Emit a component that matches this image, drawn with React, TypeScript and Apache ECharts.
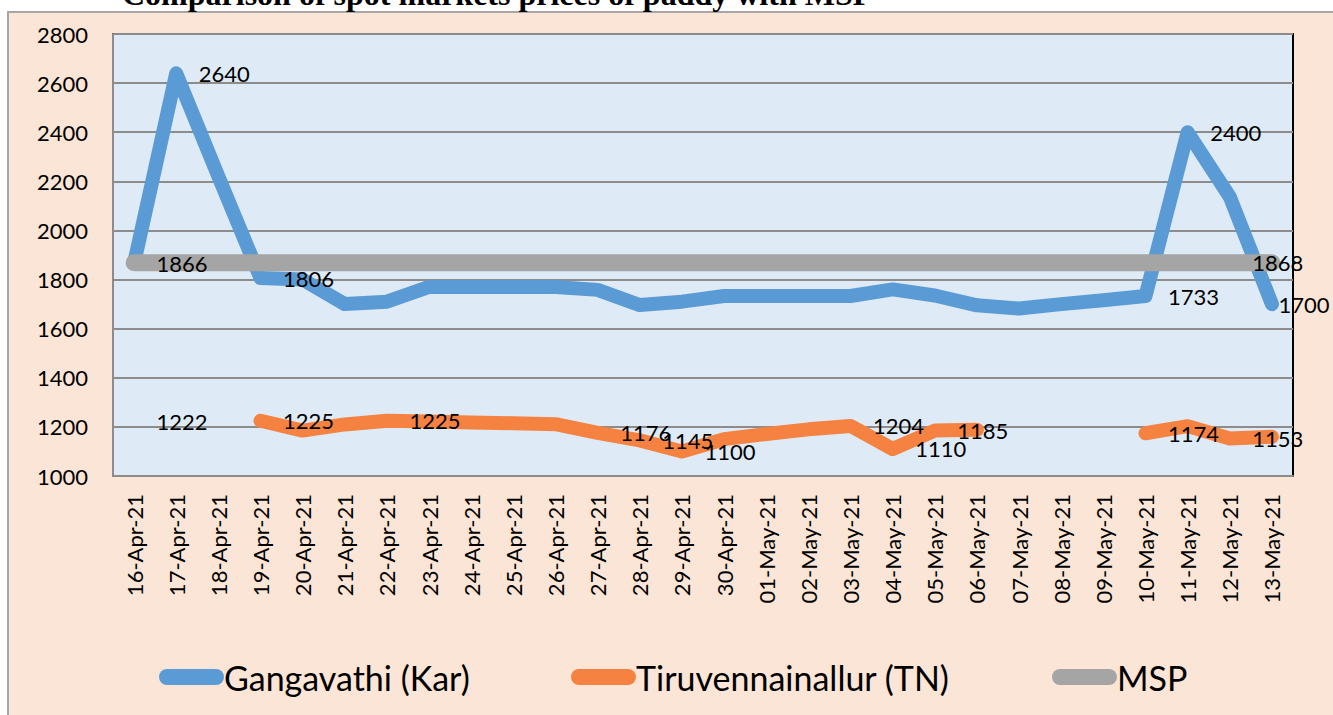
import React, { useEffect, useRef } from "react";
import * as echarts from "echarts";

const categories = [
  "16-Apr-21", "17-Apr-21", "18-Apr-21", "19-Apr-21", "20-Apr-21", "21-Apr-21", "22-Apr-21",
  "23-Apr-21", "24-Apr-21", "25-Apr-21", "26-Apr-21", "27-Apr-21", "28-Apr-21", "29-Apr-21",
  "30-Apr-21", "01-May-21", "02-May-21", "03-May-21", "04-May-21", "05-May-21", "06-May-21",
  "07-May-21", "08-May-21", "09-May-21", "10-May-21", "11-May-21", "12-May-21", "13-May-21",
];

const gangavathi = [
  1866, 2640, 2220, 1806, 1800, 1700, 1710, 1770, 1770, 1770, 1770, 1758, 1696, 1710,
  1733, 1733, 1733, 1733, 1760, 1735, 1695, 1682, 1700, 1716, 1733, 2400, 2137, 1700,
];
const gangavathiLabels = [0, 1, 3, 24, 25, 27];

const tiruvennainallur: (number | null)[] = [
  1222, null, null, 1225, 1185, 1210, 1225, 1222, 1218, 1215, 1211, 1176, 1145, 1100,
  1150, 1171, 1190, 1204, 1110, 1185, 1188, null, null, null, 1174, 1203, 1153, 1160,
];
const tiruvennainallurLabels = [0, 3, 6, 11, 12, 13, 17, 18, 19, 24, 26];

const msp = [
  1868, 1868, 1868, 1868, 1868, 1868, 1868, 1868, 1868, 1868, 1868, 1868, 1868, 1868,
  1868, 1868, 1868, 1868, 1868, 1868, 1868, 1868, 1868, 1868, 1868, 1868, 1868, 1868,
];
const mspLabels = [26];

const yMin = 1000;
const yMax = 2800;
const yStep = 200;

const FONT = "Lato";
const BLUE = "#5B9BD5";
const ORANGE = "#F58240";
const GRAY = "#A5A5A5";

function withLabels(values: (number | null)[], labelIdx: number[], lastDistance?: number) {
  return values.map((v, i) => {
    if (!labelIdx.includes(i) || v === null) return v;
    const label: any = { show: true };
    if (lastDistance !== undefined && i === values.length - 1) label.distance = lastDistance;
    return { value: v, label };
  });
}

export default function App() {
  const ref = useRef<HTMLDivElement>(null);

  useEffect(() => {
    if (!ref.current) return;
    const chart = echarts.init(ref.current, null, { renderer: "svg" });

    const labelStyle = {
      show: false,
      position: "right" as const,
      distance: 22,
      color: "#000",
      fontFamily: FONT,
      fontSize: 22,
    };

    const lineSeries = (name: string, data: any[], color: string, width: number) => ({
      name,
      type: "line",
      data,
      symbol: "circle",
      symbolSize: 1,
      showSymbol: true,
      itemStyle: { color: "rgba(0,0,0,0)" },
      lineStyle: { color, width, cap: "round", join: "round" },
      label: labelStyle,
      labelLayout: { hideOverlap: false },
      emphasis: { disabled: true },
      connectNulls: false,
    });

    const capsule = "path://M8,0 L57,0 A8,8 0 0 1 57,16 L8,16 A8,8 0 0 1 8,0 Z";

    const legendBase = {
      top: 660,
      padding: 0,
      itemWidth: 65,
      itemHeight: 16,
      icon: capsule,
      textStyle: {
        fontFamily: FONT,
        fontSize: 34,
        color: "#000",
        padding: [0, 0, 0, -5],
      },
    };

    chart.setOption({
      animation: false,
      backgroundColor: "#ffffff",
      graphic: [
        {
          type: "rect",
          z: -10,
          shape: { x: 8, y: 12, width: 1340, height: 720 },
          style: { fill: "#FBE5D6", stroke: "#A6A6A6", lineWidth: 2 },
        },
        {
          type: "text",
          z: 10,
          x: 122,
          y: 10,
          style: {
            text: "Comparison of spot markets prices of paddy with MSP",
            fontFamily: "Liberation Serif",
            fontWeight: "bold",
            fontSize: 32,
            fill: "#000",
            verticalAlign: "bottom",
          },
        },
      ],
      grid: {
        left: 113,
        top: 34,
        width: 1180,
        height: 442,
        show: true,
        backgroundColor: "#DEEBF7",
        borderColor: "#000",
        borderWidth: 2,
      },
      legend: [
        { ...legendBase, left: 159, data: [{ name: "Gangavathi (Kar)", itemStyle: { color: BLUE } }] },
        { ...legendBase, left: 571, data: [{ name: "Tiruvennainallur (TN)", itemStyle: { color: ORANGE } }] },
        { ...legendBase, left: 1052, data: [{ name: "MSP", itemStyle: { color: GRAY } }] },
      ],
      xAxis: {
        type: "category",
        data: categories,
        boundaryGap: true,
        axisTick: { show: false },
        axisLine: { show: true, lineStyle: { color: "#8C8C8C", width: 2 } },
        axisLabel: {
          rotate: 90,
          interval: 0,
          margin: 18,
          color: "#000",
          fontFamily: FONT,
          fontSize: 22,
        },
      },
      yAxis: {
        type: "value",
        min: yMin,
        max: yMax,
        interval: yStep,
        axisLine: { show: true, lineStyle: { color: "#8C8C8C", width: 2 } },
        axisTick: { show: false },
        splitLine: { lineStyle: { color: "#8C8C8C", width: 2 } },
        axisLabel: {
          margin: 25,
          color: "#000",
          fontFamily: FONT,
          fontSize: 22,
          formatter: (v: number) => String(v),
        },
      },
      series: [
        lineSeries("Gangavathi (Kar)", withLabels(gangavathi, gangavathiLabels, 6), BLUE, 14),
        lineSeries("Tiruvennainallur (TN)", withLabels(tiruvennainallur, tiruvennainallurLabels), ORANGE, 14),
        lineSeries("MSP", withLabels(msp, mspLabels), GRAY, 17),
      ],
    });

    return () => chart.dispose();
  }, []);

  return (
    <div
      ref={ref}
      style={{ position: "absolute", left: 0, top: 0, width: 1333, height: 715 }}
    />
  );
}
